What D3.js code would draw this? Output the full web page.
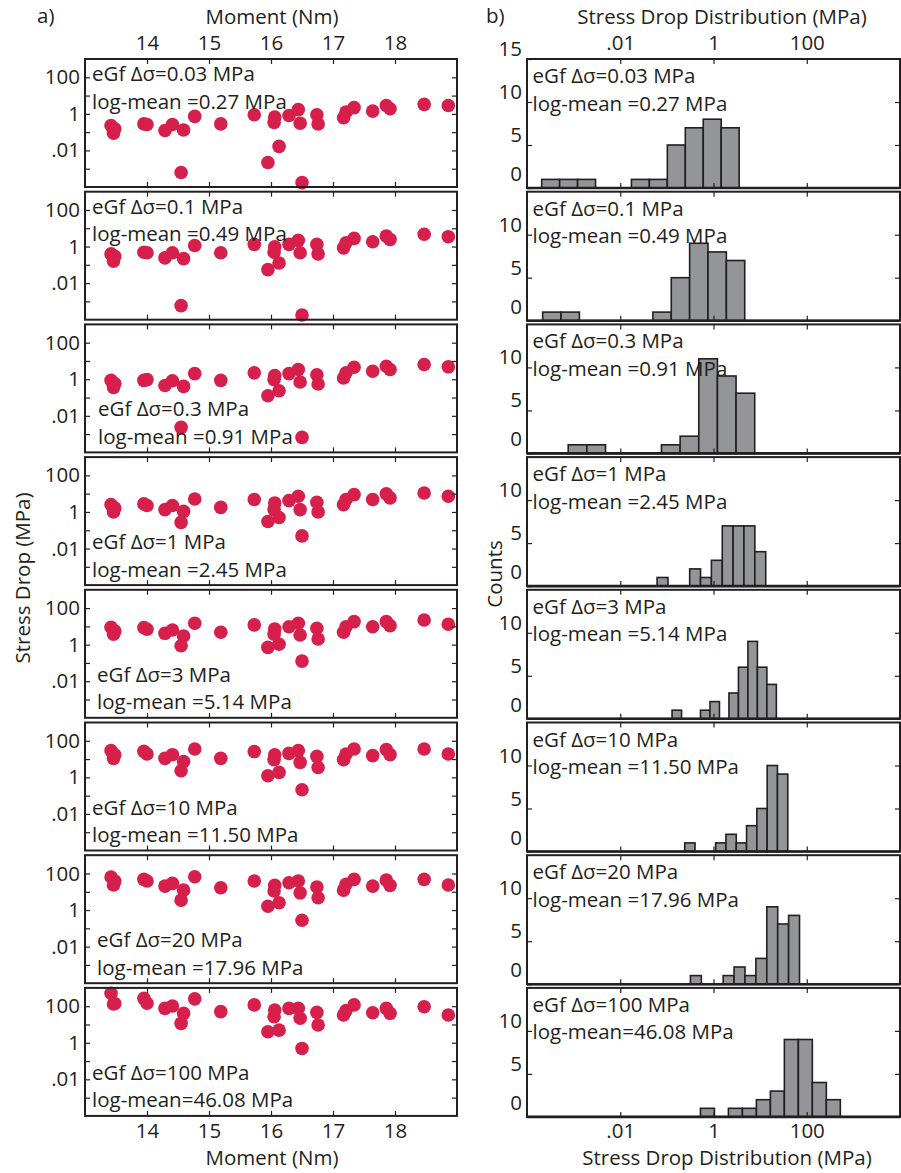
<!DOCTYPE html>
<html>
<head>
<meta charset="utf-8">
<script src="https://cdn.jsdelivr.net/npm/d3@7"></script>
<style>
  body { margin: 0; background: #fff; }
  svg text { font-family: 'Open Sans', sans-serif; fill: #231f20; }
</style>
</head>
<body>
<div id="chart"></div>
<script>
// eGf stress drop assumed for each row, and the resulting log-mean (MPa)
const egfStress = ["0.03", "0.1", "0.3", "1", "3", "10", "20", "100"];
const logMeans = ["0.27", "0.49", "0.91", "2.45", "5.14", "11.50", "17.96", "46.08"];

// event moments (log10 Nm), shared by all rows
const moments = [13.42, 13.46, 13.48, 13.95, 14.0, 14.29, 14.41, 14.59, 14.55, 14.77,
  15.19, 15.73, 15.95, 16.05, 16.06, 16.13, 16.29, 16.44, 16.47, 16.5,
  16.74, 16.76, 17.17, 17.21, 17.34, 17.64, 17.86, 17.92, 18.47, 18.86];

// log10 of stress drop (MPa) per event, one list per row
const logStress1 = [-0.64, -1.06, -0.82, -0.55, -0.58, -0.91, -0.58, -0.88, -3.21, -0.14, -0.55, -0.05, -2.66, -0.47, -0.18, -1.78, -0.09, 0.23, -0.51, -3.76, -0.05, -0.55, -0.21, 0.10, 0.34, 0.15, 0.46, 0.28, 0.52, 0.46];
const logStress2 = [-0.40, -0.80, -0.53, -0.31, -0.34, -0.62, -0.34, -0.66, -3.23, 0.06, -0.34, 0.12, -1.26, -0.31, -0.01, -0.90, 0.12, 0.34, -0.34, -3.74, 0.12, -0.40, -0.07, 0.21, 0.45, 0.26, 0.57, 0.39, 0.67, 0.54];
const logStress3 = [-0.06, -0.45, -0.24, -0.06, -0.02, -0.34, -0.08, -0.39, -2.63, 0.31, -0.06, 0.35, -0.90, -0.02, 0.20, -0.63, 0.31, 0.53, -0.15, -3.18, 0.25, -0.26, 0.07, 0.35, 0.66, 0.44, 0.71, 0.53, 0.81, 0.68];
const logStress4 = [0.40, 0.00, 0.22, 0.44, 0.35, 0.13, 0.35, 0.03, -0.57, 0.71, 0.25, 0.68, -0.52, 0.13, 0.49, -0.30, 0.62, 0.86, 0.13, -1.31, 0.53, 0.00, 0.40, 0.68, 0.95, 0.68, 0.99, 0.77, 1.04, 0.86];
const logStress5 = [0.95, 0.57, 0.75, 0.93, 0.84, 0.62, 0.80, 0.47, -0.06, 1.17, 0.68, 1.08, -0.15, 0.57, 0.86, 0.02, 0.98, 1.17, 0.53, -0.90, 0.90, 0.31, 0.68, 0.98, 1.26, 0.98, 1.26, 1.04, 1.35, 1.12];
const logStress6 = [1.46, 1.04, 1.23, 1.42, 1.28, 1.04, 1.24, 0.87, 0.36, 1.55, 1.04, 1.41, 0.09, 0.97, 1.23, 0.27, 1.31, 1.46, 0.82, -0.68, 1.15, 0.54, 0.97, 1.28, 1.55, 1.19, 1.52, 1.24, 1.55, 1.28];
const logStress7 = [1.81, 1.37, 1.59, 1.68, 1.59, 1.31, 1.46, 1.09, 0.54, 1.82, 1.22, 1.59, 0.21, 1.04, 1.35, 0.40, 1.49, 1.59, 0.94, -0.56, 1.26, 0.67, 1.09, 1.41, 1.68, 1.31, 1.64, 1.35, 1.68, 1.37];
const logStress8 = [2.71, 2.12, 2.15, 2.43, 2.16, 1.88, 2.01, 1.61, 1.06, 2.40, 1.70, 2.07, 0.60, 1.42, 1.79, 0.69, 1.88, 1.88, 1.34, -0.31, 1.66, 0.97, 1.52, 1.76, 2.07, 1.64, 1.88, 1.61, 1.97, 1.52];
const logStress = [logStress1, logStress2, logStress3, logStress4, logStress5, logStress6, logStress7, logStress8];

// histograms: first bin edge and bin width in log10(MPa), then counts
const histStart = [-3.685, -3.664, -3.116, -1.21, -0.889, -0.617, -0.495, -0.28];
const histWidth = [0.385, 0.394, 0.40, 0.233, 0.2034, 0.221, 0.234, 0.30];
const histCounts = [
  [1, 1, 1, 0, 0, 1, 1, 5, 7, 8, 7],
  [1, 1, 0, 0, 0, 0, 1, 5, 9, 8, 7],
  [1, 1, 0, 0, 0, 1, 2, 11, 9, 7],
  [1, 0, 0, 2, 1, 3, 7, 7, 7, 4],
  [1, 0, 0, 1, 2, 0, 3, 6, 9, 6, 4],
  [1, 0, 0, 1, 2, 1, 3, 5, 10, 9],
  [1, 0, 0, 1, 2, 1, 3, 9, 7, 8],
  [1, 0, 1, 1, 2, 3, 9, 9, 4, 2]
];

// tick values
const momentTicks = [14, 15, 16, 17, 18];
const stressTicks = [1e-3, 1e-2, 1e-1, 1, 10, 100];
const distTicks = [1e-2, 1, 100];

const width = 901, height = 1173;
const ink = "#231f20";
const dotColor = "#d71f4b";
const barColor = "#939598";
const fs = 20.5;

const leftX0 = 85, leftX1 = 457;
const rightX0 = 527, rightX1 = 900;
const top0 = 59, pitch = 132.7, panelH = 128;
// where the text sits in each left panel
const leftTextTop = [true, true, false, false, false, false, false, false];
const leftTextX = [92, 92, 98, 92, 97, 92, 97, 92];

const logFmt = d => {
    if (Math.abs(d - 100) < 1e-9) return "100";
    if (Math.abs(d - 1) < 1e-9) return "1";
    if (Math.abs(d - 0.01) < 1e-9) return ".01";
    return "";
};

const svg = d3.select("#chart")
    .append("svg")
    .attr("width", width)
    .attr("height", height);

svg.append("rect").attr("width", width).attr("height", height).attr("fill", "#fff");

const x = d3.scaleLinear().domain([13, 19]).range([leftX0, leftX1]);
const hx = d3.scaleLog().domain([1e-4, 1e4]).range([rightX0, rightX1]);

function styleAxis(g) {
    g.attr("font-size", fs);
    g.select(".domain").remove();
    g.selectAll(".tick line").attr("stroke", ink).attr("stroke-width", 1.2);
}

for (let i = 0; i < 8; i++) {
    const top = top0 + i * pitch;
    const bottom = top + panelH;

    // ---- left: stress drop vs moment
    const y = d3.scaleLog().domain([1e-4, 1e3]).range([bottom, top]);
    const pts = moments.map((m, j) => ({ m: m, s: Math.pow(10, logStress[i][j]) }));

    svg.append("g")
        .selectAll("circle")
        .data(pts)
        .join("circle")
        .attr("cx", d => x(d.m))
        .attr("cy", d => y(d.s))
        .attr("r", 6.8)
        .attr("fill", dotColor);

    svg.append("g").attr("transform", `translate(${leftX0},0)`)
        .call(d3.axisLeft(y).tickValues(stressTicks).tickSize(-5).tickPadding(5).tickFormat(logFmt))
        .call(styleAxis);
    svg.append("g").attr("transform", `translate(${leftX1},0)`)
        .call(d3.axisRight(y).tickValues(stressTicks).tickSize(-5).tickFormat(""))
        .call(styleAxis);
    svg.append("g").attr("transform", `translate(0,${top})`)
        .call(d3.axisTop(x).tickValues(momentTicks).tickSize(-5).tickPadding(9)
            .tickFormat(i === 0 ? d3.format("d") : ""))
        .call(styleAxis);
    svg.append("g").attr("transform", `translate(0,${bottom})`)
        .call(d3.axisBottom(x).tickValues(momentTicks).tickSize(-5).tickPadding(8)
            .tickFormat(i === 7 ? d3.format("d") : ""))
        .call(styleAxis);

    svg.append("rect")
        .attr("x", leftX0).attr("y", top)
        .attr("width", leftX1 - leftX0).attr("height", panelH)
        .attr("fill", "none").attr("stroke", ink).attr("stroke-width", 2);

    const ty = leftTextTop[i] ? top + 22 : top + 92;
    svg.append("text").attr("x", leftTextX[i]).attr("y", ty).attr("font-size", fs)
        .text(`eGf Δσ=${egfStress[i]} MPa`);
    svg.append("text").attr("x", leftTextX[i]).attr("y", ty + 27.5).attr("font-size", fs)
        .text(`log-mean${i === 7 ? "" : " "}=${logMeans[i]} MPa`);

    // ---- right: histogram of stress drop
    const cy = d3.scaleLinear().domain([0, 15]).range([bottom + 1, top]);
    const bins = histCounts[i].map((c, k) => ({
        x0: Math.pow(10, histStart[i] + k * histWidth[i]),
        x1: Math.pow(10, histStart[i] + (k + 1) * histWidth[i]),
        c: c
    })).filter(d => d.c > 0);

    svg.append("g")
        .selectAll("rect")
        .data(bins)
        .join("rect")
        .attr("x", d => hx(d.x0))
        .attr("width", d => hx(d.x1) - hx(d.x0))
        .attr("y", d => cy(d.c))
        .attr("height", d => cy(0) - cy(d.c))
        .attr("fill", barColor)
        .attr("stroke", ink)
        .attr("stroke-width", 1.6);

    const countTicks = i === 0 ? [0, 5, 10, 15] : [0, 5, 10];
    svg.append("g").attr("transform", `translate(${rightX0},0)`)
        .call(d3.axisLeft(cy).tickValues(countTicks).tickSize(-5).tickPadding(5))
        .call(styleAxis)
        .call(g => g.selectAll(".tick text").attr("y", d => d === 0 ? -14 : -10));
    svg.append("g").attr("transform", `translate(${rightX1},0)`)
        .call(d3.axisRight(cy).tickValues([5, 10]).tickSize(-5).tickFormat(""))
        .call(styleAxis);
    svg.append("g").attr("transform", `translate(0,${top})`)
        .call(d3.axisTop(hx).tickValues(distTicks).tickSize(-5).tickPadding(9)
            .tickFormat(i === 0 ? logFmt : ""))
        .call(styleAxis);
    svg.append("g").attr("transform", `translate(0,${bottom + 1})`)
        .call(d3.axisBottom(hx).tickValues(distTicks).tickSize(-5).tickPadding(6.5)
            .tickFormat(i === 7 ? logFmt : ""))
        .call(styleAxis);

    svg.append("rect")
        .attr("x", rightX0).attr("y", top)
        .attr("width", rightX1 - rightX0).attr("height", panelH + 1)
        .attr("fill", "none").attr("stroke", ink).attr("stroke-width", 2);
    svg.append("line")
        .attr("x1", rightX0).attr("x2", rightX1)
        .attr("y1", cy(0)).attr("y2", cy(0))
        .attr("stroke", ink).attr("stroke-width", 2.6);

    svg.append("text").attr("x", 532.5).attr("y", top + 24).attr("font-size", fs)
        .text(`eGf Δσ=${egfStress[i]} MPa`);
    svg.append("text").attr("x", 532.5).attr("y", top + 51.5).attr("font-size", fs)
        .text(`log-mean${i === 7 ? "" : " "}=${logMeans[i]} MPa`);
}

// titles and panel letters
svg.append("text").attr("x", 37).attr("y", 23).attr("font-size", fs).text("a)");
svg.append("text").attr("x", 486).attr("y", 23).attr("font-size", fs).text("b)");
svg.append("text").attr("x", 272).attr("y", 24).attr("font-size", fs)
    .attr("text-anchor", "middle").text("Moment (Nm)");
svg.append("text").attr("x", 722).attr("y", 24).attr("font-size", fs)
    .attr("text-anchor", "middle").text("Stress Drop Distribution (MPa)");
svg.append("text").attr("x", 272).attr("y", 1165).attr("font-size", fs)
    .attr("text-anchor", "middle").text("Moment (Nm)");
svg.append("text").attr("x", 727).attr("y", 1165).attr("font-size", fs)
    .attr("text-anchor", "middle").text("Stress Drop Distribution (MPa)");
svg.append("text")
    .attr("transform", "translate(30,578) rotate(-90)")
    .attr("font-size", fs).attr("text-anchor", "middle").text("Stress Drop (MPa)");
svg.append("text")
    .attr("transform", "translate(502,574) rotate(-90)")
    .attr("font-size", fs).attr("text-anchor", "middle").text("Counts");
</script>
</body>
</html>
